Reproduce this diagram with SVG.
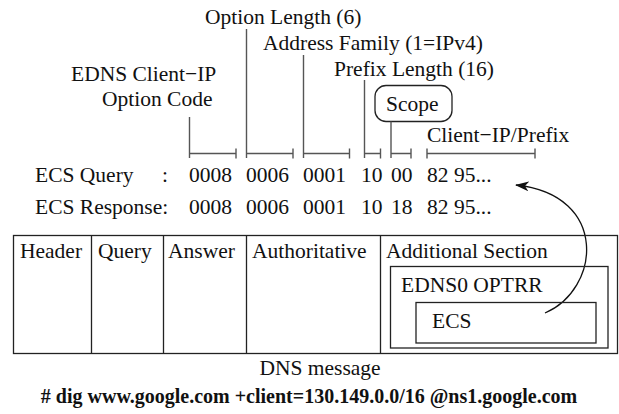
<svg xmlns="http://www.w3.org/2000/svg" width="619" height="414" viewBox="0 0 619 414">
<defs>
<style>
text{font-family:"Liberation Serif","Times New Roman",serif;font-size:21.5px;fill:#111}
.b{font-weight:bold;font-size:20px}
.m{text-anchor:middle}
.box{fill:none;stroke:#222;stroke-width:1.3}
.br{fill:none;stroke:#555;stroke-width:1.4}
.arc{fill:none;stroke:#111;stroke-width:1.3}
</style>
<marker id="ah" viewBox="0 0 14 10" refX="13" refY="5" markerWidth="14" markerHeight="10" markerUnits="userSpaceOnUse" orient="auto">
<path d="M0,0 L14,5 L0,10 L4,5 Z" fill="#111"/>
</marker>
</defs>
<rect width="619" height="414" fill="#fff"/>

<g id="labels">
<text x="205" y="24">Option Length (6)</text>
<text x="263" y="50">Address Family (1=IPv4)</text>
<text x="334" y="76">Prefix Length (16)</text>
<text x="71" y="81">EDNS Client−IP</text>
<text x="102" y="106">Option Code</text>
<text x="427" y="142">Client−IP/Prefix</text>
</g>

<g id="scope">
<rect x="375" y="85.5" width="77" height="36" rx="11" class="box"/>
<text x="386" y="111">Scope</text>
</g>

<g id="connectors">
<path class="br" d="M189.5,117 V158 M189.5,153.5 H236 M236,148.5 V158.5"/>
<path class="br" d="M246.5,29 V158 M246.5,153.5 H293 M293,148.5 V158.5"/>
<path class="br" d="M303.5,55 V158 M303.5,153.5 H349.5 M349.5,148.5 V158.5"/>
<path class="br" d="M364.5,80 V158 M364.5,153.5 H380.5 M380.5,148.5 V158.5"/>
<path class="br" d="M391,121.5 V158 M391,153.5 H411 M411,148.5 V158.5"/>
<path class="br" d="M427,148.5 V158.5 M427,153.5 H535 M535,148.5 V158.5"/>
<path class="arc" d="M545,313 C600,290 610,195 516,185" marker-end="url(#ah)"/>
</g>

<g id="query-row">
<text x="35" y="182">ECS Query</text>
<text x="162" y="182">:</text>
<text x="189" y="182">0008</text>
<text x="246" y="182">0006</text>
<text x="303" y="182">0001</text>
<text x="361" y="182">10</text>
<text x="391" y="182">00</text>
<text x="427" y="182">82 95...</text>
</g>

<g id="response-row">
<text x="35" y="214">ECS Response:</text>
<text x="189" y="214">0008</text>
<text x="246" y="214">0006</text>
<text x="303" y="214">0001</text>
<text x="361" y="214">10</text>
<text x="391" y="214">18</text>
<text x="427" y="214">82 95...</text>
</g>

<g id="dns-message">
<rect x="13.5" y="235.5" width="604" height="118" class="box"/>
<path class="box" d="M91.5,235.5 V353.5 M163.5,235.5 V353.5 M246.5,235.5 V353.5 M380.5,235.5 V353.5"/>
<text x="20" y="258">Header</text>
<text x="98" y="258">Query</text>
<text x="168" y="258">Answer</text>
<text x="252" y="258">Authoritative</text>
<text x="386" y="258">Additional Section</text>
</g>

<g id="edns0">
<rect x="390.5" y="266.5" width="217.5" height="81.5" class="box"/>
<text x="401" y="292">EDNS0 OPTRR</text>
</g>

<g id="ecs">
<rect x="416" y="302.5" width="180" height="40.5" class="box"/>
<text x="432" y="328">ECS</text>
</g>

<g id="captions">
<text x="320" y="375" class="m">DNS message</text>
<text x="309" y="403" class="m b"># dig www.google.com +client=130.149.0.0/16 @ns1.google.com</text>
</g>
</svg>
